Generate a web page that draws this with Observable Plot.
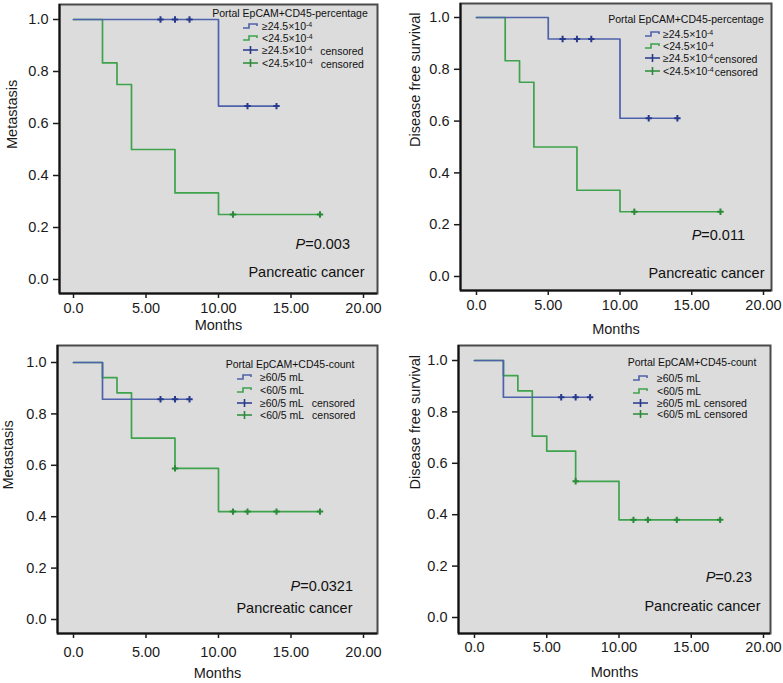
<!DOCTYPE html>
<html>
<head>
<meta charset="utf-8">
<script src="https://cdn.jsdelivr.net/npm/d3@7"></script>
<script src="https://cdn.jsdelivr.net/npm/@observablehq/plot@0.6"></script>
<style>
  html, body { margin: 0; padding: 0; background: #ffffff; }
  #wrap { position: relative; width: 783px; height: 683px; overflow: hidden; background: #fff; }
  .panel { position: absolute; }
  .panel svg { display: block; }
</style>
</head>
<body>
<div id="wrap"></div>
<script>
// ---------------- DATA ----------------
const xTicks = [0, 5, 10, 15, 20];
const xTickLabels = ["0.0", "5.00", "10.00", "15.00", "20.00"];
const yTicks = [0, 0.2, 0.4, 0.6, 0.8, 1.0];
const yTickLabels = ["0.0", "0.2", "0.4", "0.6", "0.8", "1.0"];

// Panel A: Metastasis, percentage groups
const aHighT = [0, 10, 14];
const aHighS = [1.0, 0.667, 0.667];
const aHighCens = [6, 7, 8, 12, 14];
const aLowT = [0, 2, 3, 4, 7, 10, 17];
const aLowS = [1.0, 0.833, 0.75, 0.5, 0.333, 0.25, 0.25];
const aLowCens = [11, 17];

// Panel B: Disease free survival, percentage groups
const bHighT = [0, 5, 10, 14];
const bHighS = [1.0, 0.917, 0.611, 0.611];
const bHighCens = [6, 7, 8, 12, 14];
const bLowT = [0, 2, 3, 4, 7, 10, 17];
const bLowS = [1.0, 0.833, 0.75, 0.5, 0.333, 0.25, 0.25];
const bLowCens = [11, 17];

// Panel C: Metastasis, count groups
const cHighT = [0, 2, 8];
const cHighS = [1.0, 0.857, 0.857];
const cHighCens = [6, 7, 8];
const cLowT = [0, 2, 3, 4, 7, 10, 17];
const cLowS = [1.0, 0.941, 0.882, 0.706, 0.588, 0.42, 0.42];
const cLowCens = [7, 11, 12, 14, 17];

// Panel D: Disease free survival, count groups
const dHighT = [0, 2, 8];
const dHighS = [1.0, 0.857, 0.857];
const dHighCens = [6, 7, 8];
const dLowT = [0, 2, 3, 4, 5, 7, 10, 17];
const dLowS = [1.0, 0.941, 0.882, 0.706, 0.647, 0.53, 0.38, 0.38];
const dLowCens = [7, 11, 12, 14, 17];

const yLabels = ["Metastasis", "Disease free survival", "Metastasis", "Disease free survival"];
const xLabel = "Months";
const pValues = ["0.003", "0.011", "0.0321", "0.23"];
const cancerLabel = "Pancreatic cancer";

const pctLegendTitle = "Portal EpCAM+CD45-percentage";
const pctLegendMain = ["≥24.5×10", "<24.5×10", "≥24.5×10", "<24.5×10"];
const pctLegendSup = ["-4", "-4", "-4", "-4"];
const pctLegendTail = ["", "", "censored", "censored"];
const cntLegendTitle = "Portal EpCAM+CD45-count";
const cntLegendMain = ["≥60/5 mL", "<60/5 mL", "≥60/5 mL", "<60/5 mL"];
const cntLegendSup = ["", "", "", ""];
const cntLegendTail = ["", "", "censored", "censored"];

// ---------------- STYLE ----------------
const BLUE = "#4e61ab", BLUE_DARK = "#27398a";
const GREEN = "#3ea34c", GREEN_DARK = "#2a8a38";
const FONT = "'Liberation Sans', Arial, Helvetica, sans-serif";

function stepAt(T, S, t) {
  let v = S[0];
  for (let i = 0; i < T.length; i++) if (T[i] <= t) v = S[i];
  return v;
}

const panels = [
  {left: 0, top: 0, w: 390, h: 340, fl: 59, fr: 377, ft: 4, fb: 293, x0: 73, x20: 363, y1: 19, y0: 279,
   hi: [aHighT, aHighS, aHighCens], lo: [aLowT, aLowS, aLowCens], idx: 0,
   leg: [pctLegendTitle, pctLegendMain, pctLegendSup, pctLegendTail], tailGap: 8,
   titleR: 87, titleY: 13, itemY: [26, 38, 50, 63], iconR: 134, textR: 115,
   yLabDx: -47, monthsDy: 32, xPad: 4, pR: 27, pB: 44, cR: 13, cB: 17},
  {left: 390, top: 0, w: 393, h: 340, fl: 70, fr: 381, ft: 3, fb: 290, x0: 86, x20: 373, y1: 17, y0: 276,
   hi: [bHighT, bHighS, bHighCens], lo: [bLowT, bLowS, bLowCens], idx: 1,
   leg: [pctLegendTitle, pctLegendMain, pctLegendSup, pctLegendTail], tailGap: 1,
   titleR: 85, titleY: 19, itemY: [34, 46, 58, 71], iconR: 126, textR: 108,
   yLabDx: -45, monthsDy: 39, xPad: 4, pR: 26, pB: 50, cR: 7, cB: 13},
  {left: 0, top: 340, w: 390, h: 343, fl: 57, fr: 377, ft: 5, fb: 293, x0: 73, x20: 363, y1: 22, y0: 279,
   hi: [cHighT, cHighS, cHighCens], lo: [cLowT, cLowS, cLowCens], idx: 2,
   leg: [cntLegendTitle, cntLegendMain, cntLegendSup, cntLegendTail], tailGap: 8,
   titleR: 87, titleY: 24, itemY: [37, 50, 63, 75], iconR: 140, textR: 117,
   yLabDx: -49, monthsDy: 40, xPad: 8, pR: 24, pB: 42, cR: 25, cB: 21},
  {left: 390, top: 340, w: 393, h: 343, fl: 68, fr: 380, ft: 5, fb: 293, x0: 84, x20: 373, y1: 20, y0: 277,
   hi: [dHighT, dHighS, dHighCens], lo: [dLowT, dLowS, dLowCens], idx: 3,
   leg: [cntLegendTitle, cntLegendMain, cntLegendSup, cntLegendTail], tailGap: 3,
   titleR: 78, titleY: 22, itemY: [38, 51, 63, 74], iconR: 137, textR: 113,
   yLabDx: -43, monthsDy: 39, xPad: 3, pR: 18, pB: 51, cR: 10, cB: 23}
];

const wrap = document.getElementById("wrap");

for (const p of panels) {
  const pxX = (p.x20 - p.x0) / 20;
  const xDomain = [-(p.x0 - p.fl) / pxX, 20 + (p.fr - p.x20) / pxX];
  const pxY = p.y0 - p.y1;
  const yDomain = [-(p.fb - p.y0) / pxY, 1 + (p.y1 - p.ft) / pxY];

  const hiLine = p.hi[0].map((t, i) => ({t, s: p.hi[1][i]}));
  const loLine = p.lo[0].map((t, i) => ({t, s: p.lo[1][i]}));
  const hiCens = p.hi[2].map(t => ({t, s: stepAt(p.hi[0], p.hi[1], t)}));
  const loCens = p.lo[2].map(t => ({t, s: stepAt(p.lo[0], p.lo[1], t)}));

  const svg = Plot.plot({
    width: p.w, height: p.h,
    marginLeft: p.fl, marginRight: p.w - p.fr, marginTop: p.ft, marginBottom: p.h - p.fb,
    x: {domain: xDomain},
    y: {domain: yDomain},
    style: {background: "#ffffff", fontFamily: FONT, color: "#1a1a1a"},
    marks: [
      Plot.frame({fill: "#dcdcdc", stroke: null}),
      Plot.axisY({ticks: yTicks, tickFormat: (d) => yTickLabels[yTicks.indexOf(d)], tickSize: 6, tickPadding: 5,
        fontSize: 14.5, label: null, strokeWidth: 1.5, color: "#1a1a1a"}),
      Plot.axisX({ticks: xTicks, tickFormat: (d) => xTickLabels[xTicks.indexOf(d)], tickSize: 5, tickPadding: p.xPad,
        fontSize: 14.5, label: null, strokeWidth: 1.5, color: "#1a1a1a"}),
      Plot.line(loLine, {x: "t", y: "s", curve: "step-after", stroke: GREEN, strokeWidth: 1.7}),
      Plot.line(hiLine, {x: "t", y: "s", curve: "step-after", stroke: BLUE, strokeWidth: 1.7}),
      Plot.dot(loCens, {x: "t", y: "s", symbol: "plus", r: 2.2, stroke: GREEN_DARK, strokeWidth: 2}),
      Plot.dot(hiCens, {x: "t", y: "s", symbol: "plus", r: 2.2, stroke: BLUE_DARK, strokeWidth: 2}),
      Plot.frame({stroke: "#4a4a4a", strokeWidth: 2}),
      Plot.ruleX([xDomain[0]], {stroke: "#111", strokeWidth: 2}),
      Plot.ruleY([yDomain[0]], {stroke: "#111", strokeWidth: 2}),
      Plot.text([xLabel], {text: d => d, frameAnchor: "bottom", dy: p.monthsDy, lineAnchor: "middle", fontSize: 14.5, fill: "#1a1a1a"}),
      Plot.text([yLabels[p.idx]], {text: d => d, frameAnchor: "left", dx: p.yLabDx, rotate: -90, lineAnchor: "middle", fontSize: 14.5, fill: "#1a1a1a"}),
      Plot.text([cancerLabel], {text: d => d, frameAnchor: "bottom-right", dx: -p.cR, dy: -p.cB, textAnchor: "end", lineAnchor: "bottom", fontSize: 14.5, fill: "#111"})
    ]
  });

  // P value annotation with italic P
  const root = d3.select(svg);
  const pt = root.append("text")
    .attr("x", p.fr - p.pR).attr("y", p.fb - p.pB)
    .attr("text-anchor", "end").attr("font-family", FONT).attr("font-size", 14.5).attr("fill", "#111");
  pt.append("tspan").attr("font-style", "italic").text("P");
  pt.append("tspan").text("=" + pValues[p.idx]);

  // Legend
  const [title, mains, sups, tails] = p.leg;
  const lg = root.append("g").attr("font-family", FONT).attr("font-size", 10.5).attr("fill", "#111");
  lg.append("text").attr("x", p.fr - p.titleR).attr("y", p.titleY).attr("dy", "0.35em")
    .attr("text-anchor", "middle").text(title);
  const cols = [BLUE, GREEN, BLUE_DARK, GREEN_DARK];
  for (let i = 0; i < 4; i++) {
    const y = p.itemY[i];
    const ix = p.fr - p.iconR;
    if (i < 2) {
      lg.append("path").attr("d", `M${ix},${y + 2}H${ix + 6}V${y - 2}H${ix + 14}V${y}`)
        .attr("fill", "none").attr("stroke", cols[i]).attr("stroke-width", 1.6);
    } else {
      lg.append("path").attr("d", `M${ix},${y}H${ix + 15}M${ix + 7.5},${y - 4}V${y + 4}`)
        .attr("fill", "none").attr("stroke", cols[i]).attr("stroke-width", 1.6);
    }
    const t = lg.append("text").attr("x", p.fr - p.textR).attr("y", y).attr("dy", "0.35em")
      .attr("text-anchor", "start");
    t.append("tspan").text(mains[i]);
    if (sups[i]) t.append("tspan").attr("dy", "-0.45em").attr("font-size", 7).text(sups[i]);
    if (tails[i]) t.append("tspan").attr("dy", sups[i] ? "0.45em" : null).attr("dx", p.tailGap).text(tails[i]);
  }

  const div = document.createElement("div");
  div.className = "panel";
  div.style.left = p.left + "px";
  div.style.top = p.top + "px";
  div.appendChild(svg);
  wrap.appendChild(div);
}
</script>
</body>
</html>
